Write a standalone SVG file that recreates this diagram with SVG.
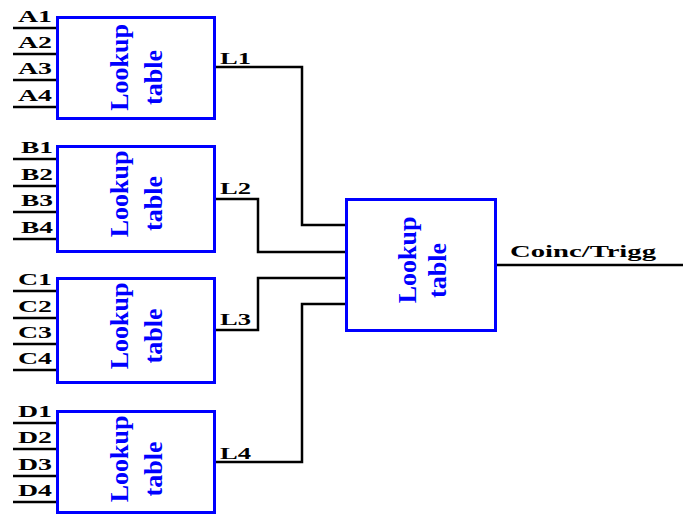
<svg xmlns="http://www.w3.org/2000/svg" width="683" height="514" viewBox="0 0 683 514">
<style>
.box{fill:#fff;stroke:#0000ff;stroke-width:3}
.lut{font-family:"Liberation Serif",serif;font-weight:bold;font-size:26px;fill:#0000ff;text-anchor:middle}
.lbl{font-family:"Liberation Serif",serif;font-weight:bold;font-size:17px;fill:#000}
.w{fill:none;stroke:#000;stroke-width:2.5}
</style>
<rect width="683" height="514" fill="#fff"/>
<g id="connectors">
<path class="w" d="M13 28H57M13 54H57M13 80H57M13 107H57"/>
<path class="w" d="M13 159H57M13 186H57M13 212H57M13 239H57"/>
<path class="w" d="M13 291H57M13 318H57M13 344H57M13 370H57"/>
<path class="w" d="M13 423H57M13 449H57M13 476H57M13 502H57"/>
<path class="w" d="M214 67H302V225H346"/>
<path class="w" d="M214 199H258V252H346"/>
<path class="w" d="M214 330H258V278H346"/>
<path class="w" d="M214 462H302V304H346"/>
<path class="w" d="M495 265H683"/>
</g>
<g id="lutA">
<rect class="box" x="57.5" y="17.5" width="157" height="101"/>
<text class="lut" transform="translate(128,67.5) rotate(-90)">Lookup</text>
<text class="lut" transform="translate(162,77.5) rotate(-90)">table</text>
<text class="lbl" x="18" y="22" textLength="34" lengthAdjust="spacingAndGlyphs">A1</text>
<text class="lbl" x="18" y="48" textLength="34" lengthAdjust="spacingAndGlyphs">A2</text>
<text class="lbl" x="18" y="74" textLength="34" lengthAdjust="spacingAndGlyphs">A3</text>
<text class="lbl" x="18" y="101" textLength="34" lengthAdjust="spacingAndGlyphs">A4</text>
</g>
<g id="lutB">
<rect class="box" x="57.5" y="146.5" width="157" height="105"/>
<text class="lut" transform="translate(128,194) rotate(-90)">Lookup</text>
<text class="lut" transform="translate(162,203.5) rotate(-90)">table</text>
<text class="lbl" x="21" y="153" textLength="32" lengthAdjust="spacingAndGlyphs">B1</text>
<text class="lbl" x="21" y="180" textLength="32" lengthAdjust="spacingAndGlyphs">B2</text>
<text class="lbl" x="21" y="206" textLength="32" lengthAdjust="spacingAndGlyphs">B3</text>
<text class="lbl" x="21" y="233" textLength="32" lengthAdjust="spacingAndGlyphs">B4</text>
</g>
<g id="lutC">
<rect class="box" x="57.5" y="278.5" width="157" height="104"/>
<text class="lut" transform="translate(128,326) rotate(-90)">Lookup</text>
<text class="lut" transform="translate(162,336) rotate(-90)">table</text>
<text class="lbl" x="18" y="285" textLength="34" lengthAdjust="spacingAndGlyphs">C1</text>
<text class="lbl" x="18" y="312" textLength="34" lengthAdjust="spacingAndGlyphs">C2</text>
<text class="lbl" x="18" y="338" textLength="34" lengthAdjust="spacingAndGlyphs">C3</text>
<text class="lbl" x="18" y="364" textLength="34" lengthAdjust="spacingAndGlyphs">C4</text>
</g>
<g id="lutD">
<rect class="box" x="57.5" y="411.5" width="157" height="101"/>
<text class="lut" transform="translate(128,459) rotate(-90)">Lookup</text>
<text class="lut" transform="translate(162,469) rotate(-90)">table</text>
<text class="lbl" x="18" y="417" textLength="34" lengthAdjust="spacingAndGlyphs">D1</text>
<text class="lbl" x="18" y="443" textLength="34" lengthAdjust="spacingAndGlyphs">D2</text>
<text class="lbl" x="18" y="470" textLength="34" lengthAdjust="spacingAndGlyphs">D3</text>
<text class="lbl" x="18" y="496" textLength="34" lengthAdjust="spacingAndGlyphs">D4</text>
</g>
<g id="lutMain">
<rect class="box" x="346.5" y="199.5" width="149" height="131"/>
<text class="lut" transform="translate(416,260) rotate(-90)">Lookup</text>
<text class="lut" transform="translate(446,270.5) rotate(-90)">table</text>
</g>
<g id="labels">
<text class="lbl" x="220" y="64" textLength="31" lengthAdjust="spacingAndGlyphs">L1</text>
<text class="lbl" x="220" y="194" textLength="31" lengthAdjust="spacingAndGlyphs">L2</text>
<text class="lbl" x="220" y="325" textLength="31" lengthAdjust="spacingAndGlyphs">L3</text>
<text class="lbl" x="220" y="459" textLength="31" lengthAdjust="spacingAndGlyphs">L4</text>
<text class="lbl" x="510" y="257" font-size="19" textLength="146" lengthAdjust="spacingAndGlyphs">Coinc/Trigg</text>
</g>
</svg>
